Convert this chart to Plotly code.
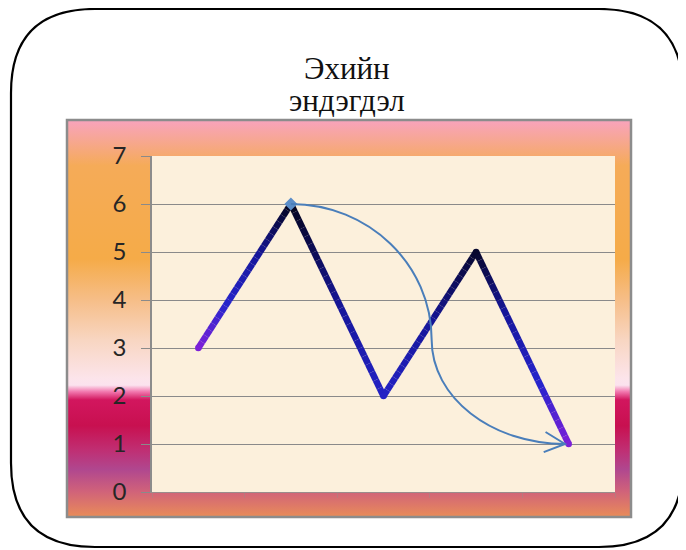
import base64
import plotly.graph_objects as go

# ---------------- data ----------------
x_vals = [1, 2, 3, 4, 5]
y_vals = [3, 6, 2, 5, 1]
y_ticks = [0, 1, 2, 3, 4, 5, 6, 7]
title_line1 = "Эхийн"
title_line2 = "эндэгдэл"

# ---------------- geometry / styles ----------------
W, H = 686, 550
OFF = 8  # page body margin
PL, PR, PT, PB = 152 - OFF, 615 - OFF, 156 - OFF, 492 - OFF   # plot area in figure px
CL, CR, CT, CB = 67 - OFF, 631 - OFF, 120 - OFF, 517 - OFF    # chart area in figure px


def px2paper(px, py):
    return (px - PL) / (PR - PL), (PB - py) / (PB - PT)


# background svg (decoration): rounded frame, gradient chart area, cream plot area
stops = [
    (0.000, "#f9a3bd"), (0.040, "#f7a69c"), (0.115, "#f5ab58"), (0.350, "#f5ab48"),
    (0.450, "#f6bd86"), (0.555, "#f8d6c2"), (0.650, "#fce4ea"), (0.668, "#fbe2ee"),
    (0.684, "#f27ab0"), (0.705, "#d2165e"), (0.770, "#c81050"), (0.830, "#c02e72"),
    (0.880, "#b0478f"), (0.935, "#d0627a"), (1.000, "#e98c58"),
]
stop_xml = "".join(f'<stop offset="{o}" stop-color="{c}"/>' for o, c in stops)
R = 84
fx0, fy0, fx1, fy1 = 11 - OFF, 9 - OFF, 683 - OFF, 547 - OFF
frame = (f"M{fx0+R},{fy0} L{fx1-R},{fy0} Q{fx1},{fy0} {fx1},{fy0+R} L{fx1},{fy1-R} "
         f"Q{fx1},{fy1} {fx1-R},{fy1} L{fx0+R},{fy1} Q{fx0},{fy1} {fx0},{fy1-R} "
         f"L{fx0},{fy0+R} Q{fx0},{fy0} {fx0+R},{fy0} Z")
svg = (
    f'<svg xmlns="http://www.w3.org/2000/svg" width="{W}" height="{H}" viewBox="0 0 {W} {H}">'
    f'<defs><linearGradient id="g" x1="0" y1="0" x2="0" y2="1">{stop_xml}</linearGradient></defs>'
    f'<rect x="0" y="0" width="{W}" height="{H}" fill="white"/>'
    f'<path d="{frame}" fill="none" stroke="black" stroke-width="2.2"/>'
    f'<rect x="{CL}" y="{CT}" width="{CR-CL}" height="{CB-CT}" fill="url(#g)" stroke="#8c8c8c" stroke-width="2.5"/>'
    f'<rect x="{PL}" y="{PT}" width="{PR-PL}" height="{PB-PT}" fill="#fcf0dc"/>'
    f'</svg>'
)
svg_uri = "data:image/svg+xml;base64," + base64.b64encode(svg.encode("utf-8")).decode("ascii")

# gradient line colour scale
cmap = [(0.0, (0x7c, 0x20, 0xd8)), (0.3, (0x26, 0x24, 0xcc)), (0.65, (0x16, 0x16, 0x9a)), (1.0, (0x04, 0x04, 0x1c))]
point_t = [0.0, 1.0, 0.35, 0.95, 0.0]


def cm(t):
    for (t0, c0), (t1, c1) in zip(cmap[:-1], cmap[1:]):
        if t <= t1:
            f = (t - t0) / (t1 - t0) if t1 > t0 else 0
            return "rgb(%d,%d,%d)" % tuple(round(a + (b - a) * f) for a, b in zip(c0, c1))
    return "rgb(%d,%d,%d)" % cmap[-1][1]


fig = go.Figure()

NSUB = 24
for i in range(len(x_vals) - 1):
    for k in range(NSUB):
        f0, f1 = k / NSUB, (k + 1) / NSUB
        xa = x_vals[i] + (x_vals[i + 1] - x_vals[i]) * f0
        xb = x_vals[i] + (x_vals[i + 1] - x_vals[i]) * f1
        ya = y_vals[i] + (y_vals[i + 1] - y_vals[i]) * f0
        yb = y_vals[i] + (y_vals[i + 1] - y_vals[i]) * f1
        t = point_t[i] + (point_t[i + 1] - point_t[i]) * (f0 + f1) / 2
        fig.add_trace(go.Scatter(x=[xa, xb], y=[ya, yb], mode="lines",
                                 line=dict(color=cm(t), width=6.5), showlegend=False,
                                 hoverinfo="skip"))
# joints
fig.add_trace(go.Scatter(x=x_vals, y=y_vals, mode="markers",
                         marker=dict(size=6.5, color=[cm(t) for t in point_t], line=dict(width=0)),
                         showlegend=False, hoverinfo="skip"))

# curved arrow from the peak to the last point
sx, sy = x_vals[1], y_vals[1]
ex, ey = x_vals[4] - 0.04, y_vals[4]
bx, by = 3.52, 3.17
kk = 0.5523
path = (f"M{sx},{sy} C{sx + kk*(bx-sx)},{sy} {bx},{by + kk*(sy-by)} {bx},{by} "
        f"C{bx},{by - kk*(by-ey)} {ex - kk*(ex-bx)},{ey} {ex},{ey}")
head = f"M{ex-0.21},{ey+0.25} L{ex},{ey} L{ex-0.23},{ey-0.17}"
arrow_col = "#4a7eba"
fig.add_shape(type="path", path=path, xref="x", yref="y", line=dict(color=arrow_col, width=2))
fig.add_shape(type="path", path=head, xref="x", yref="y", line=dict(color=arrow_col, width=2))
fig.add_trace(go.Scatter(x=[sx], y=[sy], mode="markers",
                         marker=dict(symbol="diamond", size=10, color="#5b8dc8"),
                         showlegend=False, hoverinfo="skip"))

# background image
ix, iy = px2paper(0, 0)
fig.add_layout_image(dict(source=svg_uri, xref="paper", yref="paper", x=ix, y=iy,
                          sizex=W / (PR - PL), sizey=H / (PB - PT), sizing="stretch",
                          xanchor="left", yanchor="top", layer="below"))

# title (one text, two lines, tight line spacing)
title_html = (f'<span style="font-size:31px">{title_line1}</span><br>'
              f'<span style="font-size:31px">{title_line2}</span>')
tx_, ty_ = px2paper(347 - OFF, 84 - OFF)
fig.add_annotation(text=title_html, xref="paper", yref="paper", x=tx_, y=ty_,
                   xanchor="center", yanchor="middle", showarrow=False, align="center",
                   font=dict(family="Liberation Serif", size=24.6, color="#111"))

fig.update_layout(
    width=W, height=H,
    margin=dict(l=PL, r=W - PR, t=PT, b=H - PB, pad=0),
    paper_bgcolor="white", plot_bgcolor="rgba(0,0,0,0)",
    showlegend=False,
    xaxis=dict(range=[0.5, 5.5], showgrid=False, zeroline=False, showticklabels=False,
               showline=True, linecolor="#9a8c8c", linewidth=1.3,
               tickvals=[0.5, 1.5, 2.5, 3.5, 4.5, 5.5], ticks="outside", ticklen=5,
               tickcolor="rgba(170,130,130,0.6)", tickwidth=1),
    yaxis=dict(range=[0, 7], tickvals=y_ticks, showgrid=True, gridcolor="#8a8a8a",
               gridwidth=1.3, zeroline=False, showline=True, linecolor="#8c8c8c",
               linewidth=1.5, ticks="outside", ticklen=9, tickcolor="#8a8a8a",
               tickwidth=1.3, ticklabelstandoff=10,
               tickfont=dict(family="Lato", size=24, color="#262626")),
)

fig.write_html("out.html")
